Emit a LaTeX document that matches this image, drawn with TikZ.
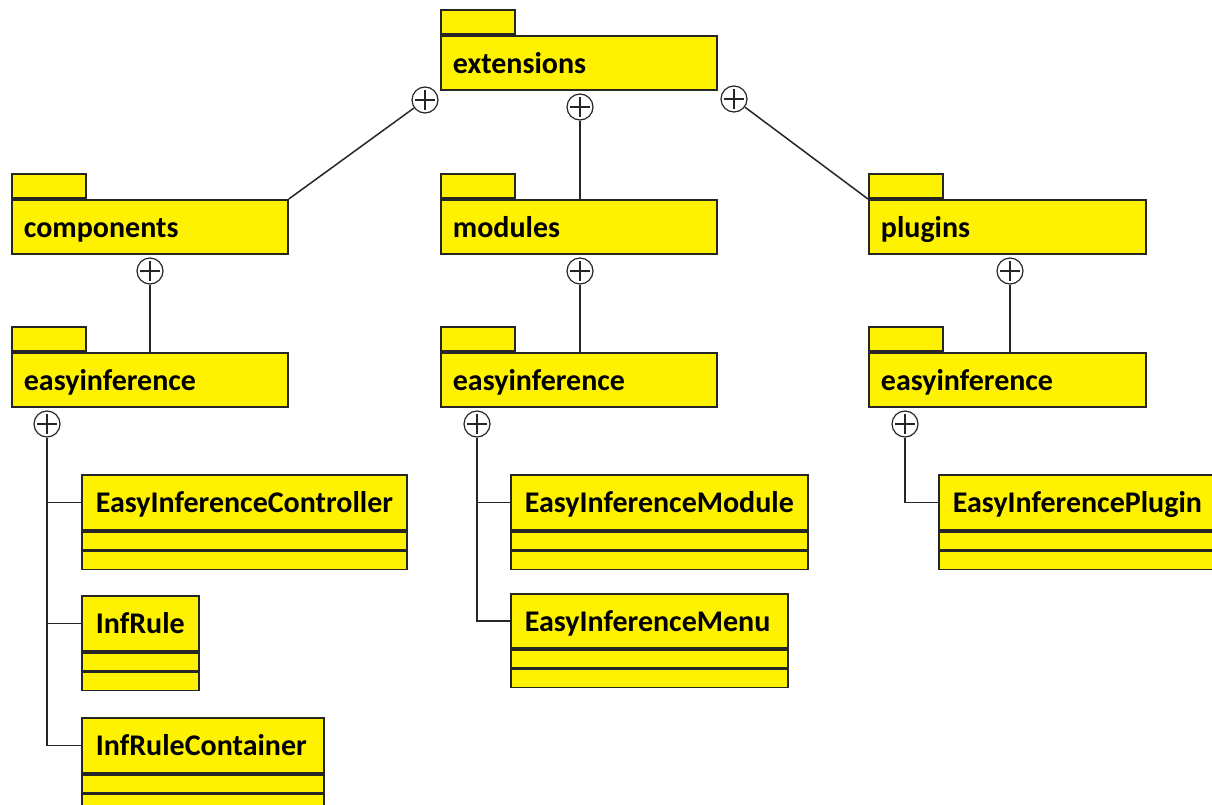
\documentclass[tikz,border=0pt]{standalone}
\usepackage{fontspec}
\setmainfont{Carlito}
\definecolor{uyel}{RGB}{255,242,0}
\definecolor{uline}{RGB}{38,38,38}
\begin{document}
\begin{tikzpicture}[x=1pt,y=-1pt,
  every node/.style={font=\bfseries\fontsize{30}{34}\selectfont},
  pkgbody/.style={draw=uline,fill=uyel,line width=1.8pt,anchor=north west,
    minimum width=#1,minimum height=54pt,inner xsep=12pt,inner ysep=0pt,
    text height=26pt,text depth=4pt,
    text width=#1-24pt,align=left},
  pkgtab/.style={draw=uline,fill=uyel,line width=1.8pt,anchor=south west,
    minimum width=74pt,minimum height=24pt,inner sep=0pt},
  clshead/.style={draw=uline,fill=uyel,line width=1.8pt,anchor=north west,
    minimum width=#1,minimum height=55pt,inner xsep=14pt,inner ysep=0pt,
    text height=25pt,text depth=4pt,
    text width=#1-28pt,align=left},
  clspart/.style={draw=uline,fill=uyel,line width=1.8pt,anchor=north west,
    minimum width=#1,minimum height=18pt,inner sep=0pt},
  nest/.style={circle,draw=uline,fill=white,line width=1.2pt,minimum size=26pt,inner sep=0pt,
    path picture={\draw[uline,line width=1.3pt]
      ([xshift=3pt]path picture bounding box.west) -- ([xshift=-3pt]path picture bounding box.east)
      ([yshift=-3pt]path picture bounding box.north) -- ([yshift=3pt]path picture bounding box.south);}},
  conn/.style={draw=uline,line width=1.5pt}
]
\useasboundingbox (0,0) rectangle (1212,804);
\fill[white] (0,0) rectangle (1212,804);

% extensions
\node[pkgbody=276pt] (ext) at (440,35) {extensions};
\node[pkgtab] (extT) at (ext.north west) {};

% second level packages
\node[pkgbody=276pt] (comp) at (11,199) {components};
\node[pkgtab] (compT) at (comp.north west) {};
\node[pkgbody=276pt] (mods) at (440,199) {modules};
\node[pkgtab] (modsT) at (mods.north west) {};
\node[pkgbody=277pt] (plug) at (868,199) {plugins};
\node[pkgtab] (plugT) at (plug.north west) {};

% third level packages
\node[pkgbody=276pt] (eiC) at (11,352) {easyinference};
\node[pkgtab] (eiCT) at (eiC.north west) {};
\node[pkgbody=276pt] (eiM) at (440,352) {easyinference};
\node[pkgtab] (eiMT) at (eiM.north west) {};
\node[pkgbody=277pt] (eiP) at (868,352) {easyinference};
\node[pkgtab] (eiPT) at (eiP.north west) {};

% classes
\node[clshead=325pt] (ctrl) at (81,474) {EasyInferenceController};
\node[clspart=325pt] (ctrlA) at (ctrl.south west) {};
\node[clspart=325pt] (ctrlB) at (ctrlA.south west) {};

\node[clshead=117pt] (rule) at (81,595) {InfRule};
\node[clspart=117pt] (ruleA) at (rule.south west) {};
\node[clspart=117pt] (ruleB) at (ruleA.south west) {};

\node[clshead=242pt] (cont) at (81,717) {InfRuleContainer};
\node[clspart=242pt] (contA) at (cont.south west) {};
\node[clspart=242pt] (contB) at (contA.south west) {};

\node[clshead=297pt] (emod) at (510,474) {EasyInferenceModule};
\node[clspart=297pt] (emodA) at (emod.south west) {};
\node[clspart=297pt] (emodB) at (emodA.south west) {};

\node[clshead=277pt,minimum height=54pt] (emenu) at (510,593) {EasyInferenceMenu};
\node[clspart=277pt] (emenuA) at (emenu.south west) {};
\node[clspart=277pt] (emenuB) at (emenuA.south west) {};

\node[clshead=290pt] (eplug) at (938,474) {EasyInferencePlugin};
\node[clspart=290pt] (eplugA) at (eplug.south west) {};
\node[clspart=290pt] (eplugB) at (eplugA.south west) {};

% nesting circles
\node[nest] (n1) at (425,100) {};
\node[nest] (n2) at (580,107) {};
\node[nest] (n3) at (734,99) {};
\node[nest] (n4) at (150,271) {};
\node[nest] (n5) at (580,271) {};
\node[nest] (n6) at (1010,271) {};
\node[nest] (n7) at (47,424) {};
\node[nest] (n8) at (477,424) {};
\node[nest] (n9) at (905,424) {};

% connectors
\draw[conn] (n1) -- (comp.north east);
\draw[conn] (n2) -- (n2 |- mods.north);
\draw[conn] (n3) -- (plug.north west);
\draw[conn] (n4) -- (n4 |- eiC.north);
\draw[conn] (n5) -- (n5 |- eiM.north);
\draw[conn] (n6) -- (n6 |- eiP.north);

\draw[conn] (n7) |- (cont.west);
\draw[conn] (n7 |- ctrl.west) -- (ctrl.west);
\draw[conn] (n7 |- rule.west) -- (rule.west);

\draw[conn] (n8) |- (emenu.west);
\draw[conn] (n8 |- emod.west) -- (emod.west);

\draw[conn] (n9) |- (eplug.west);
\end{tikzpicture}
\end{document}
